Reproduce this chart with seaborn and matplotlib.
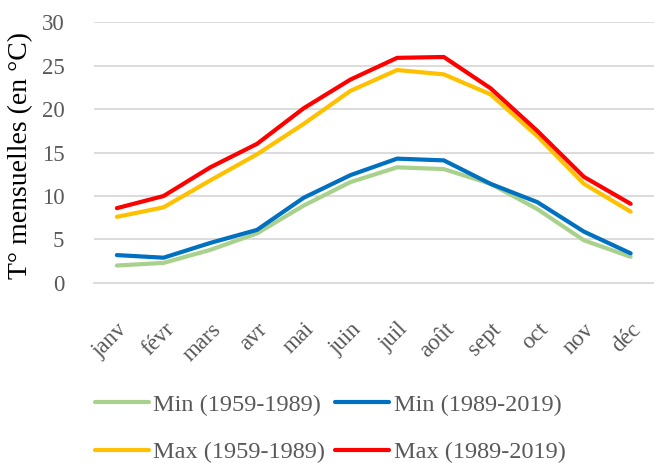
import matplotlib
matplotlib.use("Agg")
import matplotlib.pyplot as plt
import seaborn as sns
import pandas as pd

months = ["janv", "févr", "mars", "avr", "mai", "juin", "juil", "août", "sept", "oct", "nov", "déc"]
min_1959_1989 = [2.0, 2.3, 3.8, 5.7, 8.9, 11.6, 13.3, 13.1, 11.4, 8.5, 4.9, 3.0]
min_1989_2019 = [3.2, 2.9, 4.6, 6.1, 9.8, 12.4, 14.3, 14.1, 11.4, 9.3, 5.9, 3.4]
max_1959_1989 = [7.6, 8.7, 11.8, 14.8, 18.3, 22.1, 24.5, 24.0, 21.7, 16.9, 11.4, 8.2]
max_1989_2019 = [8.6, 10.0, 13.3, 16.0, 20.1, 23.4, 25.9, 26.0, 22.4, 17.5, 12.2, 9.1]

series_names = ["Min (1959-1989)", "Min (1989-2019)", "Max (1959-1989)", "Max (1989-2019)"]
colors = ["#A9D18E", "#0070C0", "#FFC000", "#FF0000"]

rows = []
for name, vals in zip(series_names, [min_1959_1989, min_1989_2019, max_1959_1989, max_1989_2019]):
    for i, (m, v) in enumerate(zip(months, vals)):
        rows.append({"idx": i, "mois": m, "serie": name, "temp": v})
df = pd.DataFrame(rows)

sns.set_theme(style="white")
plt.rcParams["font.family"] = ["Liberation Serif", "DejaVu Serif"]
txt = "#595959"

fig = plt.figure(figsize=(6.54, 4.63), dpi=100)
ax = fig.add_axes([0.143, 0.389, 0.857, 0.563])

sns.lineplot(data=df, x="idx", y="temp", hue="serie", hue_order=series_names,
             palette=colors, linewidth=3.0, ax=ax, legend=False, sort=False)

ax.set_xlim(-0.5, 11.5)
ax.set_ylim(0, 30)
ax.set_yticks(range(0, 31, 5))
ax.set_xticks(range(12))
ax.set_xticklabels(months, rotation=45, ha="right", rotation_mode="anchor")
ax.yaxis.grid(True, color="#D9D9D9", linewidth=1.3)
ax.xaxis.grid(False)
for s in ["top", "right", "left"]:
    ax.spines[s].set_visible(False)
ax.spines["bottom"].set_color("#D9D9D9")
ax.spines["bottom"].set_linewidth(1.3)
ax.tick_params(axis="both", length=0, labelsize=16.5, colors=txt)
ax.tick_params(axis="y", pad=21)
ax.tick_params(axis="x", pad=26)
ax.set_xlabel("")
ax.set_ylabel("T° mensuelles (en °C)", fontsize=20, color="black")
ax.yaxis.set_label_coords(-0.108, 0.49)

handles = [plt.Line2D([], [], color=c, linewidth=3.0) for c in colors]
order = [0, 2, 1, 3]
leg = fig.legend([handles[i] for i in order], [series_names[i] for i in order],
                 loc="center", bbox_to_anchor=(0.505, 0.074),
                 ncol=2, frameon=False, fontsize=17.5, handlelength=2.2,
                 handletextpad=0.2, columnspacing=0.4, labelspacing=1.05,
                 borderpad=0.1)
for t in leg.get_texts():
    t.set_color(txt)

fig.savefig("out.png", dpi=100)
